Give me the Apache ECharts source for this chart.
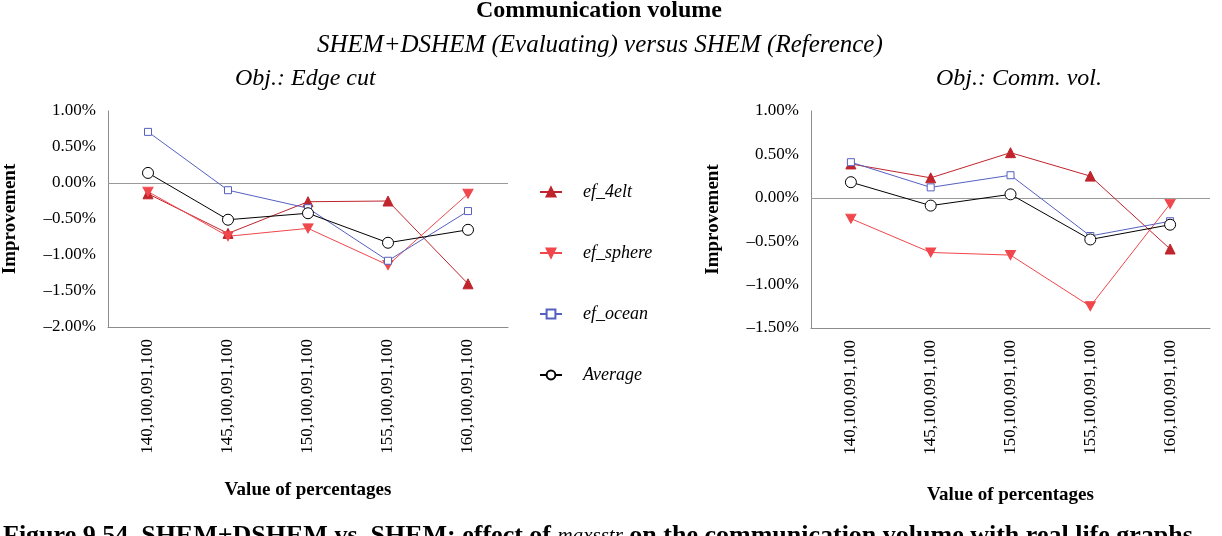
<!DOCTYPE html>
<html>
<head>
<meta charset="utf-8">
<script src="https://cdn.jsdelivr.net/npm/echarts@6/dist/echarts.min.js"></script>
<style>html,body{margin:0;padding:0;background:#fff}#c{width:1222px;height:536px}</style>
</head>
<body>
<div id="c"></div>
<script>
const categories = ['140,100,091,100','145,100,091,100','150,100,091,100','155,100,091,100','160,100,091,100'];
const seriesNames = ['ef_4elt','ef_sphere','ef_ocean','Average'];
// Left panel: Obj.: Edge cut (values in %)
const edge4elt   = [-0.15, -0.70, -0.26, -0.25, -1.40];
const edgeSphere = [-0.12, -0.74, -0.63, -1.14, -0.15];
const edgeOcean  = [ 0.71, -0.10, -0.35, -1.08, -0.39];
const edgeAvg    = [ 0.14, -0.51, -0.42, -0.83, -0.65];
// Right panel: Obj.: Comm. vol. (values in %)
const comm4elt   = [ 0.39,  0.23,  0.52,  0.25, -0.59];
const commSphere = [-0.24, -0.63, -0.66, -1.25, -0.07];
const commOcean  = [ 0.41,  0.12,  0.26, -0.44, -0.27];
const commAvg    = [ 0.18, -0.09,  0.04, -0.48, -0.31];

const FONT = 'Liberation Serif';
const styles = {
  'ef_4elt':   {color:'#c0242c', symbol:'triangle', size:10, fill:'#c0242c'},
  'ef_sphere': {color:'#f0474c', symbol:'path://M0,0 L10,0 L5,9 Z', size:[10,9], fill:'#f0474c'},
  'ef_ocean':  {color:'#5560c0', symbol:'rect', size:7, fill:'#ffffff'},
  'Average':   {color:'#000000', symbol:'circle', size:11, fill:'#ffffff'}
};
function mk(name, data, idx, withZero){
  const s = styles[name];
  const o = {
    name: name, type:'line', data: data, xAxisIndex: idx, yAxisIndex: idx,
    symbol: s.symbol, symbolSize: s.size, showAllSymbol:true,
    lineStyle:{color:s.color, width:1},
    itemStyle:{color:s.fill, borderColor:s.color, borderWidth:1},
    z: 3, animation:false
  };
  if (withZero) {
    o.markLine = {silent:true, symbol:'none', label:{show:false},
      lineStyle:{color:'#9a9a9a', width:1, type:'solid'},
      data:[{yAxis:0}], z:1, animation:false};
  }
  return o;
}
const fmt = v => (v < 0 ? '\u2013' : '') + Math.abs(v).toFixed(2) + '%';
function yAx(idx, min){
  return {gridIndex: idx, type:'value', min:min, max:1, interval:0.5,
    name:'Improvement', nameLocation:'middle', nameGap:88, nameRotate:90,
    nameTextStyle:{fontFamily:FONT, fontWeight:'bold', fontSize:19, color:'#000'},
    axisLine:{show:true, lineStyle:{color:'#8c8c8c', width:1}},
    axisTick:{show:false}, splitLine:{show:false},
    axisLabel:{formatter:fmt, fontFamily:FONT, fontSize:17, color:'#000', margin:12}};
}
function xAx(idx, gap){
  return {gridIndex: idx, type:'category', data: categories, boundaryGap:true,
    name:'Value of percentages', nameLocation:'middle', nameGap:gap,
    nameTextStyle:{fontFamily:FONT, fontWeight:'bold', fontSize:19, color:'#000'},
    axisLine:{show:true, onZero:false, lineStyle:{color:'#8c8c8c', width:1}},
    axisTick:{show:false}, splitLine:{show:false},
    axisLabel:{rotate:90, fontFamily:FONT, fontSize:17, color:'#000', margin:12, interval:0}};
}
const chart = echarts.init(document.getElementById('c'), null, {renderer:'canvas'});
chart.setOption({
  animation:false,
  backgroundColor:'#ffffff',
  grid:[
    {left:105, top:111, width:403, height:216, containLabel:false},
    {left:811, top:111, width:399, height:217, containLabel:false}
  ],
  xAxis:[xAx(0,154), xAx(1,158)],
  yAxis:[yAx(0,-2), yAx(1,-1.5)],
  legend:{
    data: seriesNames, orient:'vertical', left:534, top:177,
    itemWidth:22, itemHeight:11, itemGap:41,
    textStyle:{fontFamily:FONT, fontStyle:'italic', fontSize:18, color:'#000', lineHeight:20, padding:[0,0,0,16]}
  },
  graphic:[
    {type:'text', x:476, y:-1, style:{text:'Communication volume', font:'bold 24px "Liberation Serif"', fill:'#000'}},
    {type:'text', x:317, y:33, style:{text:'SHEM+DSHEM (Evaluating) versus SHEM (Reference)', font:'italic 25px "Liberation Serif"', fill:'#000'}},
    {type:'text', x:235, y:67, style:{text:'Obj.: Edge cut', font:'italic 24px "Liberation Serif"', fill:'#000'}},
    {type:'text', x:936, y:67, style:{text:'Obj.: Comm. vol.', font:'italic 24px "Liberation Serif"', fill:'#000'}},
    {type:'text', x:3, y:523, style:{
      text:'{b|Figure 9.54. SHEM+DSHEM vs. SHEM: effect of }{i|maxsstr}{b| on the communication volume with real life graphs}',
      rich:{
        b:{fontFamily:FONT, fontWeight:'bold', fontSize:26, fill:'#000', color:'#000'},
        i:{fontFamily:FONT, fontStyle:'italic', fontSize:21, fill:'#000', color:'#000'}
      }}}
  ],
  series:[
    mk('ef_4elt', edge4elt, 0, true),
    mk('ef_sphere', edgeSphere, 0, false),
    mk('ef_ocean', edgeOcean, 0, false),
    mk('Average', edgeAvg, 0, false),
    mk('ef_4elt', comm4elt, 1, true),
    mk('ef_sphere', commSphere, 1, false),
    mk('ef_ocean', commOcean, 1, false),
    mk('Average', commAvg, 1, false)
  ]
});
</script>
</body>
</html>
